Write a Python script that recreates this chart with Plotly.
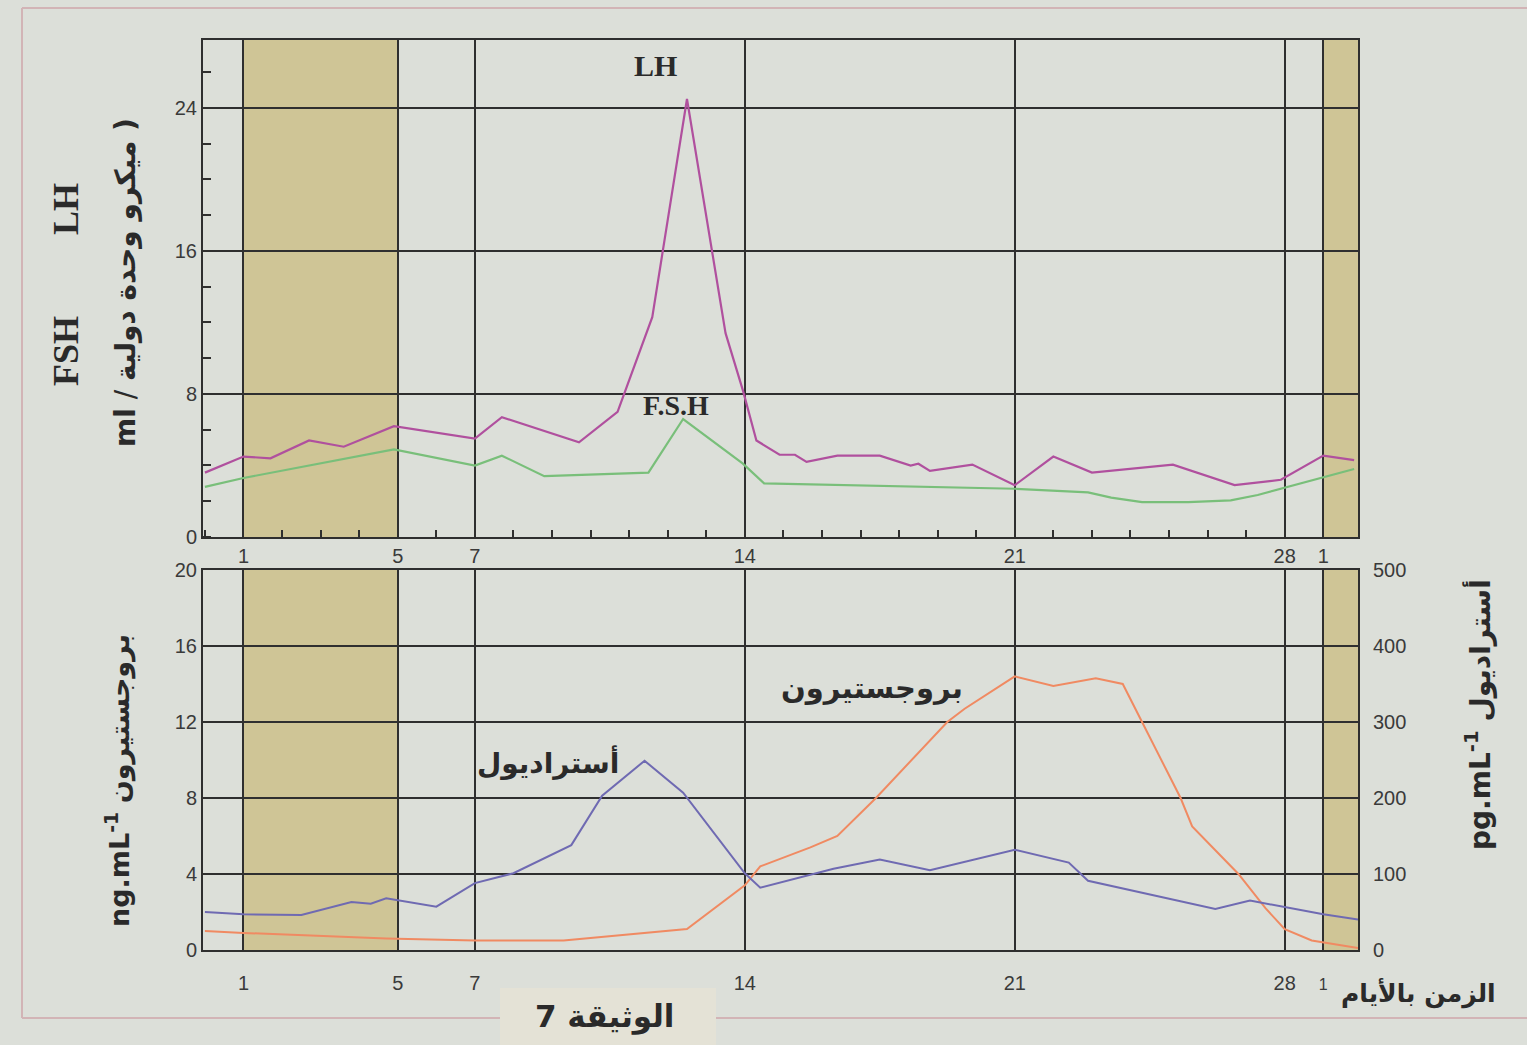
import plotly.graph_objects as go

# ---------------- data ----------------
# top panel: pituitary hormones (micro-IU / ml), x = day of cycle
days_lh = [0.0, 1.0, 1.7, 2.7, 3.6, 4.9, 7.0, 7.7, 9.7, 10.7, 11.6, 12.5, 13.5, 13.95,
           14.3, 14.9, 15.3, 15.6, 16.4, 17.5, 18.3, 18.5, 18.8, 19.9, 21.0, 22.0,
           23.0, 25.1, 26.7, 27.9, 29.0, 29.8]
lh = [3.6, 4.5, 4.4, 5.4, 5.05, 6.2, 5.5, 6.7, 5.3, 7.0, 12.3, 24.5, 11.4, 8.2,
      5.4, 4.6, 4.6, 4.2, 4.55, 4.55, 4.0, 4.1, 3.7, 4.05, 2.9, 4.5,
      3.6, 4.05, 2.9, 3.2, 4.55, 4.3]

days_fsh = [0.0, 1.0, 4.9, 7.0, 7.7, 8.8, 11.5, 12.4, 13.95, 14.5, 21.0, 22.9,
            23.5, 24.3, 25.5, 26.6, 27.3, 27.9, 29.0, 29.8]
fsh = [2.8, 3.3, 4.9, 4.0, 4.55, 3.4, 3.6, 6.6, 4.1, 3.0, 2.7, 2.5,
       2.2, 1.95, 1.95, 2.05, 2.35, 2.7, 3.3, 3.8]

# bottom panel: ovarian hormones
days_e2 = [0.0, 1.0, 2.5, 3.8, 4.3, 4.7, 6.0, 7.0, 8.0, 9.5, 10.3, 11.4, 12.4, 14.0,
           14.4, 16.3, 17.5, 18.8, 21.0, 22.4, 22.9, 26.2, 27.1, 29.0, 29.9]
estradiol = [50, 47, 46, 63, 61, 68, 57, 88, 101, 138, 203, 249, 207, 101,
             82, 107, 119, 105, 132, 115, 91, 54, 65, 47, 40]          # pg/mL

days_p4 = [0.0, 1.0, 4.7, 7.0, 9.3, 12.5, 14.0, 14.4, 15.7, 16.4, 17.4, 19.25, 19.7,
           21.0, 22.0, 23.1, 23.8, 24.3, 25.3, 25.6, 26.8, 27.5, 28.0, 28.7, 29.9]
progesterone = [1.0, 0.9, 0.6, 0.5, 0.5, 1.1, 3.4, 4.4, 5.4, 6.0, 8.0, 12.0, 12.7,
                14.4, 13.9, 14.3, 14.0, 12.0, 8.0, 6.5, 4.0, 2.2, 1.1, 0.5, 0.1]  # ng/mL

day_ticks = [1, 5, 7, 14, 21, 28, 29]
day_labels = ["1", "5", "7", "14", "21", "28", "1"]
menses = [(1, 5), (29, 29.9)]
top_yticks = [0, 8, 16, 24]
p4_ticks = [0, 4, 8, 12, 16, 20]
e2_ticks = [0, 100, 200, 300, 400, 500]

# ---------------- styling ----------------
W, H = 1527, 1045
BG = "#dcdfd9"
GRID = "#2f2f2f"
TAN = "#cfc596"
TXT = "#2a2a2a"
TICKFONT = dict(family="Liberation Sans, Arial", size=20, color="#3a3a3a")
AR = "DejaVu Sans"
SERIF = "Liberation Serif, Times New Roman"

XR = [-0.05, 29.9]
XDOM = [203 / W, 1358 / W]

def px(x):
    return x / W

def py(y):
    return 1 - y / H

fig = go.Figure()

fig.add_trace(go.Scatter(x=days_lh, y=lh, mode="lines", line=dict(color="#b0509e", width=2.2),
                         xaxis="x", yaxis="y", showlegend=False))
fig.add_trace(go.Scatter(x=days_fsh, y=fsh, mode="lines", line=dict(color="#79bf7a", width=2.2),
                         xaxis="x", yaxis="y", showlegend=False))
fig.add_trace(go.Scatter(x=days_p4, y=progesterone, mode="lines",
                         line=dict(color="#f08a62", width=2.0),
                         xaxis="x2", yaxis="y2", showlegend=False))
fig.add_trace(go.Scatter(x=days_e2, y=estradiol, mode="lines",
                         line=dict(color="#6f6ab2", width=2.0),
                         xaxis="x2", yaxis="y3", showlegend=False))

axis_common = dict(showline=True, linecolor=GRID, linewidth=2, mirror=True,
                   showgrid=True, gridcolor=GRID, gridwidth=2, zeroline=False,
                   tickfont=TICKFONT, ticks="", automargin=False)

fig.update_layout(
    width=W, height=H, autosize=False,
    margin=dict(l=0, r=0, t=0, b=0, pad=0, autoexpand=False),
    paper_bgcolor=BG, plot_bgcolor=BG,
    xaxis=dict(domain=XDOM, anchor="y", range=XR, tickmode="array",
               tickvals=day_ticks, ticktext=day_labels,
               minor=dict(ticks="inside", ticklen=7, tickwidth=2, tickcolor=GRID,
                          dtick=1, tick0=0, showgrid=False),
               **axis_common),
    yaxis=dict(domain=[py(537), py(40)], anchor="x", range=[0, 27.8],
               tickmode="array", tickvals=top_yticks,
               minor=dict(ticks="inside", ticklen=8, tickwidth=2, tickcolor=GRID,
                          dtick=2, tick0=0, showgrid=False),
               **axis_common),
    xaxis2=dict(domain=XDOM, anchor="y2", range=XR, tickmode="array",
                tickvals=day_ticks,
                ticktext=day_labels[:-1] + ["<span style='font-size:16px'>1</span>"],
                ticklabelstandoff=14,
                **axis_common),
    yaxis2=dict(domain=[py(950), py(570)], anchor="x2", range=[0, 20],
                tickmode="array", tickvals=p4_ticks, **axis_common),
    yaxis3=dict(overlaying="y2", anchor="x2", side="right", range=[0, 500],
                tickmode="array", tickvals=e2_ticks, showgrid=False, zeroline=False,
                showline=False, tickfont=TICKFONT, ticklabelstandoff=14, automargin=False),
)

shapes = []
for (a, b) in menses:
    for xr, yr in (("x", "y domain"), ("x2", "y2 domain")):
        shapes.append(dict(type="rect", xref=xr, yref=yr, x0=a, x1=b, y0=0, y1=1,
                           fillcolor=TAN, line=dict(width=0), layer="below"))
# page frame and caption box
FRAME = "#d2b4b6"
shapes.append(dict(type="line", xref="paper", yref="paper", x0=px(22), x1=px(22),
                   y0=py(8), y1=py(1018), line=dict(color=FRAME, width=2)))
shapes.append(dict(type="line", xref="paper", yref="paper", x0=px(22), x1=1,
                   y0=py(1018), y1=py(1018), line=dict(color=FRAME, width=2)))
shapes.append(dict(type="line", xref="paper", yref="paper", x0=px(22), x1=1,
                   y0=py(8), y1=py(8), line=dict(color=FRAME, width=2)))
shapes.append(dict(type="rect", xref="paper", yref="paper", x0=px(500), x1=px(716),
                   y0=0, y1=py(988), fillcolor="#e4e2d6", line=dict(width=0)))
fig.update_layout(shapes=shapes)

ann = []
def note(text, x, y, size, family, angle=0, bold=False, color=TXT):
    if bold:
        text = "<b>" + text + "</b>"
    ann.append(dict(text=text, x=px(x), y=py(y), xref="paper", yref="paper",
                    showarrow=False, textangle=angle, xanchor="center", yanchor="middle",
                    font=dict(family=family, size=size, color=color)))

note("LH", 655, 66, 30, SERIF, bold=True)
note("F.S.H", 676, 405, 28, SERIF, bold=True)
note("أستراديول", 548, 762, 28, AR, bold=True)
note("بروجستيرون", 872, 688, 29, AR, bold=True)
note("FSH", 66, 351, 36, SERIF, angle=-90, bold=True)
note("LH", 66, 209, 36, SERIF, angle=-90, bold=True)
note("<b>ml</b> / <b>ميكرو وحدة دولية )</b>", 125, 283, 28, AR, angle=-90)
note("<b>ng.mL<sup>-1</sup></b> <b>بروجستيرون</b>", 118, 781, 27, AR, angle=-90)
note("<b>pg.mL<sup>-1</sup></b> <b>أستراديول</b>", 1478, 715, 28, AR, angle=-90)
note("<b>الزمن بالأيام</b>", 1418, 993, 25, AR)
note("<b>الوثيقة 7</b>", 604, 1016, 31, AR)
fig.update_layout(annotations=ann)

fig.write_html("out.html", config={"displayModeBar": False},
               post_script="document.body.style.margin='0px';")
